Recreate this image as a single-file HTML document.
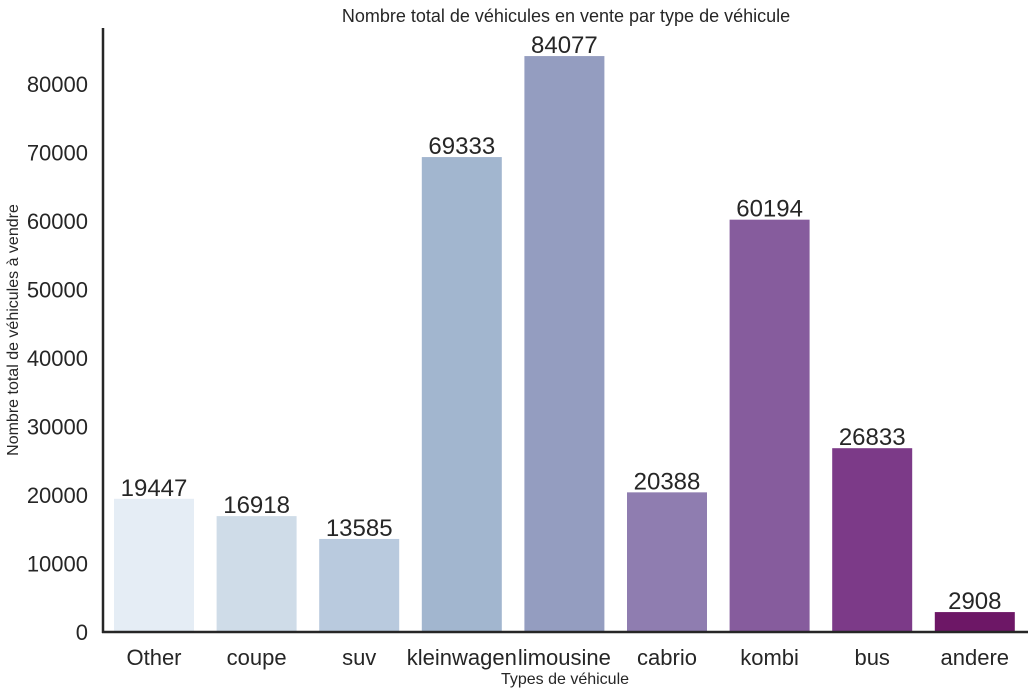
<!DOCTYPE html>
<html><head><meta charset="utf-8"><style>
body{margin:0;background:#fff;}
svg{display:block;font-family:"Liberation Sans",sans-serif;}
</style></head><body>
<svg id="chart" width="1034" height="694">
<text x="566" y="22" font-size="18" text-anchor="middle" fill="#262626">Nombre total de véhicules en vente par type de véhicule</text>
<text x="565" y="684" font-size="16" text-anchor="middle" fill="#262626">Types de véhicule</text>
<text transform="translate(18,330) rotate(-90)" font-size="16" text-anchor="middle" fill="#262626">Nombre total de véhicules à vendre</text>
<g id="bars"></g>
<g id="yticks"></g>
<g id="xticks"></g>
<line x1="103" y1="28" x2="103" y2="633" stroke="#262626" stroke-width="2.5"/>
<line x1="102" y1="632" x2="1028" y2="632" stroke="#262626" stroke-width="2.5"/>
</svg>
<script>
const categories=["Other","coupe","suv","kleinwagen","limousine","cabrio","kombi","bus","andere"];
const values=[19447,16918,13585,69333,84077,20388,60194,26833,2908];
const colors=["#e5edf5","#cfdce8","#b9cade","#a2b6cf","#949dc0","#8f7db0","#865c9d","#7c3a88","#6d1766"];
const yTicks=[0,10000,20000,30000,40000,50000,60000,70000,80000];
const NS="http://www.w3.org/2000/svg";
function y(v){return 632-v*0.00685;}
function xc(i){return 154+i*102.6;}
const bw=80;
const bars=document.getElementById('bars'),yt=document.getElementById('yticks'),xt=document.getElementById('xticks');
categories.forEach((c,i)=>{
 const r=document.createElementNS(NS,'rect');
 r.setAttribute('x',xc(i)-bw/2);r.setAttribute('width',bw);
 r.setAttribute('y',y(values[i]));r.setAttribute('height',632-y(values[i]));
 r.setAttribute('fill',colors[i]);
 
 
 bars.appendChild(r);
 const t=document.createElementNS(NS,'text');
 t.setAttribute('x',xc(i));t.setAttribute('y',y(values[i])-3);
 t.setAttribute('font-size','24');t.setAttribute('text-anchor','middle');t.setAttribute('fill','#262626');
 t.textContent=values[i];
 
 
 bars.appendChild(t);
 const l=document.createElementNS(NS,'text');
 l.setAttribute('x',xc(i));l.setAttribute('y',665);
 l.setAttribute('font-size','22');l.setAttribute('text-anchor','middle');l.setAttribute('fill','#262626');
 l.textContent=c;
 
 
 xt.appendChild(l);
});
yTicks.forEach(v=>{
 const t=document.createElementNS(NS,'text');
 t.setAttribute('x',88);t.setAttribute('y',y(v)+8);
 t.setAttribute('font-size','22');t.setAttribute('text-anchor','end');t.setAttribute('fill','#262626');
 t.textContent=v;
 
 
 yt.appendChild(t);
});
</script>
</body></html>
